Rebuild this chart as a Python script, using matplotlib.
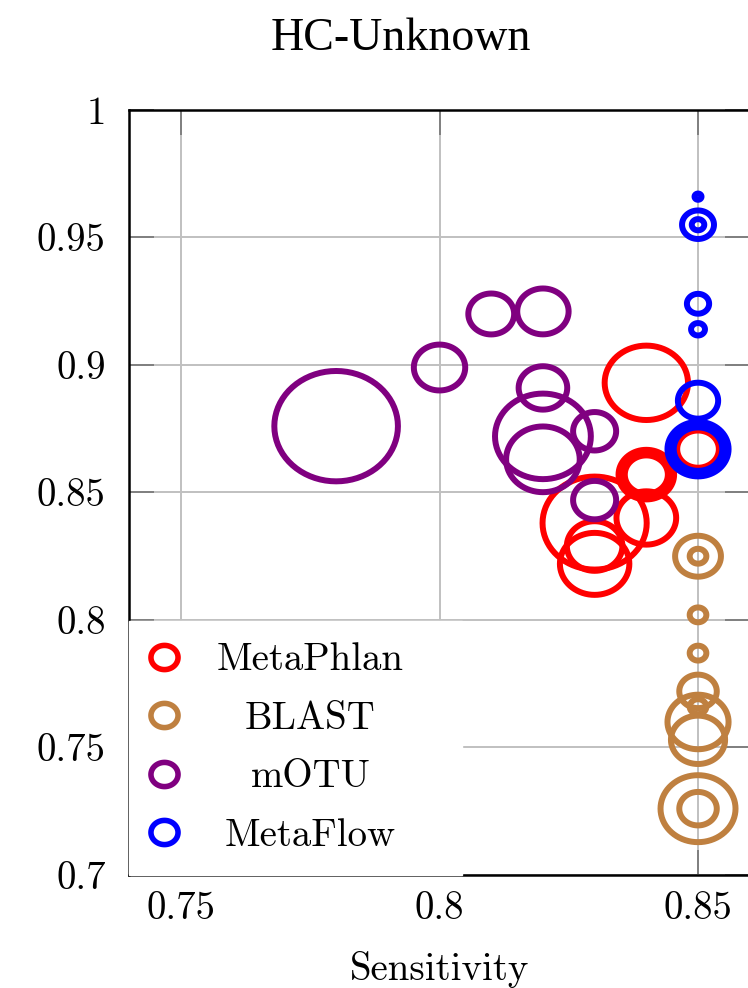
import numpy as np
import matplotlib
matplotlib.use("Agg")
import matplotlib.pyplot as plt
from matplotlib.path import Path
from matplotlib.lines import Line2D
from matplotlib.ticker import FuncFormatter

plt.rcParams['font.family'] = 'cmr10'
plt.rcParams['mathtext.fontset'] = 'cm'
plt.rcParams['axes.formatter.use_mathtext'] = True

# MetaPhlan
metaphlan_x = [0.84, 0.84, 0.84, 0.84, 0.84, 0.83, 0.83, 0.83, 0.85]
metaphlan_y = [0.893, 0.857, 0.857, 0.857, 0.840, 0.838, 0.829, 0.822, 0.867]
metaphlan_size = [60, 31, 35, 40, 43, 75, 40, 50, 30]

# BLAST
blast_x = [0.85, 0.85, 0.85, 0.85, 0.85, 0.85, 0.85, 0.85, 0.85, 0.85]
blast_y = [0.825, 0.825, 0.802, 0.787, 0.772, 0.766, 0.760, 0.753, 0.726, 0.726]
blast_size = [33, 12, 12, 12, 27, 12, 44, 39, 54, 27]

# mOTU
motu_x = [0.78, 0.80, 0.81, 0.82, 0.82, 0.82, 0.82, 0.83, 0.83]
motu_y = [0.876, 0.899, 0.920, 0.921, 0.891, 0.872, 0.863, 0.874, 0.847]
motu_size = [89, 37, 33, 37, 35, 69, 53, 31, 31]

# MetaFlow
metaflow_x = [0.85, 0.85, 0.85, 0.85, 0.85, 0.85, 0.85, 0.85, 0.85]
metaflow_y = [0.966, 0.955, 0.955, 0.924, 0.914, 0.886, 0.867, 0.867, 0.867]
metaflow_size = [5, 23, 9, 16, 10, 29, 35, 40, 44]

tools = ["MetaPhlan", "BLAST", "mOTU", "MetaFlow"]
colors = ["#ff0000", "#bf8040", "#800080", "#0000ff"]
series = [(metaphlan_x, metaphlan_y, metaphlan_size),
          (blast_x, blast_y, blast_size),
          (motu_x, motu_y, motu_size),
          (metaflow_x, metaflow_y, metaflow_size)]

xticks = [0.75, 0.8, 0.85]
yticks = [0.7, 0.75, 0.8, 0.85, 0.9, 0.95, 1.0]

# slightly wide ellipse marker (picture is stretched horizontally)
t = np.linspace(0, 2 * np.pi, 73)
ell = Path(np.column_stack([1.12 * np.cos(t), np.sin(t)]), closed=True)

fig = plt.figure(figsize=(7.48, 9.88), dpi=100)
ax = fig.add_axes([0.1729, 0.1144, 0.8294, 0.7743])

for (xs, ys, ss), c in zip(series, colors):
    ax.scatter(xs, ys, s=np.array(ss) ** 2, marker=ell, facecolors='none',
               edgecolors=c, linewidths=4.3, zorder=3)

ax.set_xlim(0.74, 0.86)
ax.set_ylim(0.7, 1.0)
ax.set_xticks(xticks)
ax.set_yticks(yticks)
fmt = FuncFormatter(lambda v, p: '%g' % v)
ax.xaxis.set_major_formatter(fmt)
ax.yaxis.set_major_formatter(fmt)
ax.grid(True, color='#c0c0c0', linewidth=1.4, zorder=0)
ax.set_axisbelow(True)
ax.tick_params(direction='in', length=18, width=1.4, color='#808080',
               top=True, right=True, labelsize=28)
ax.tick_params(axis='x', pad=12)
ax.tick_params(axis='y', pad=17)
for sp in ax.spines.values():
    sp.set_linewidth(1.8)

ax.set_xlabel('Sensitivity', fontsize=28, labelpad=17)
ax.set_title('HC-Unknown', fontsize=33, family='Liberation Serif',
             x=0.438, pad=43)

handles = [Line2D([], [], ls='none', marker=ell, markersize=19.5,
                  markerfacecolor='none', markeredgecolor=c,
                  markeredgewidth=4.0) for c in colors]
leg = ax.legend(handles, tools, loc='lower left',
                bbox_to_anchor=(0, 0, 0.536, 0.34), mode='expand',
                borderaxespad=0, borderpad=0.55, handlelength=0.7,
                handletextpad=1.0, labelspacing=0.58, fontsize=28,
                fancybox=False, framealpha=1, edgecolor='white')
leg.set_zorder(5)

# center the legend labels on each other
fig.canvas.draw()
r = fig.canvas.get_renderer()
texts = leg.get_texts()
widths = [tx.get_window_extent(r).width for tx in texts]
wmax = max(widths)
for tx, w in zip(texts, widths):
    tx.set_position(((wmax - w) / 2, 0))

fig.savefig('out.png', dpi=100)
